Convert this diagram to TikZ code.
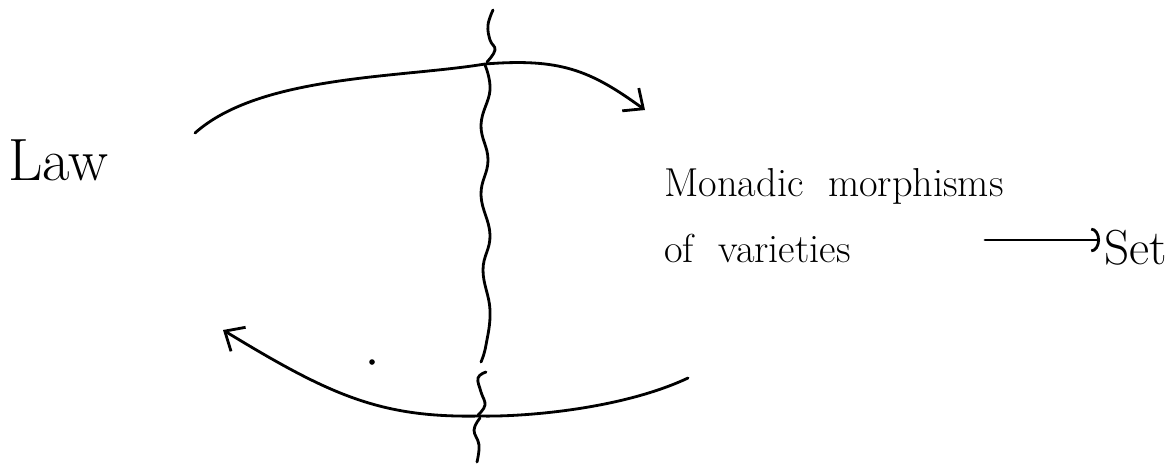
\documentclass[tikz,border=0pt]{standalone}
\usetikzlibrary{arrows.meta}
\begin{document}
\begin{tikzpicture}[x=0.02cm,y=-0.02cm,
  pen/.style={line width=1.6pt,line cap=round,line join=round},
  hand/.style={inner sep=0pt,anchor=base west},
  barb/.style={-{Straight Barb[length=9pt,width=16pt,line width=1.6pt]}},
  arcbarb/.style={-{Arc Barb[length=5pt,width=14pt,line width=1.6pt]}}]
\useasboundingbox (0,0) rectangle (1175,468);
% labels
\node[hand,font=\fontsize{34}{38}\selectfont] (law) at (8,180) {Law};
\node[hand,font=\fontsize{23}{28}\selectfont] (mono1) at (664,196) {Monadic\ \ morphisms};
\node[hand,font=\fontsize{23}{28}\selectfont] (mono2) at (664,262) {of\ \ varieties};
\node[hand,font=\fontsize{28}{32}\selectfont] (set) at (1104,264) {Set};
\coordinate (arrs) at (985,240);
\coordinate (arre) at (1100,240);
\draw[pen,arcbarb] (arrs) -- (arre);
% top arc
\coordinate (ta) at (195,133);
\coordinate (tb) at (645,110);
\draw[pen,barb] (ta) .. controls (260,75) and (400,78) .. (485,64)
  .. controls (560,58) and (590,70) .. (tb);
% bottom arc
\coordinate (ba) at (688,378);
\coordinate (bb) at (223,330);
\draw[pen,barb] (ba) .. controls (620,410) and (520,417) .. (480,416)
  .. controls (380,418) and (330,395) .. (bb);
% wavy vertical line
\draw[pen] plot[smooth,tension=0.7] coordinates {(493,10) (488,25) (490,40) (495,50) (487,62)};
\draw[pen] plot[smooth,tension=0.7] coordinates {(485,65) (490,90) (481,125) (488,160) (481,195) (490,235) (483,270) (490,310) (486,345) (481,362)};
\draw[pen] plot[smooth,tension=0.7] coordinates {(486,372) (478,378) (481,392) (485,405) (478,415)};
\draw[pen] plot[smooth,tension=0.7] coordinates {(480,418) (474,430) (479,445) (477,462)};
% dot
\fill (372,362) circle (1.6pt);
\end{tikzpicture}
\end{document}
